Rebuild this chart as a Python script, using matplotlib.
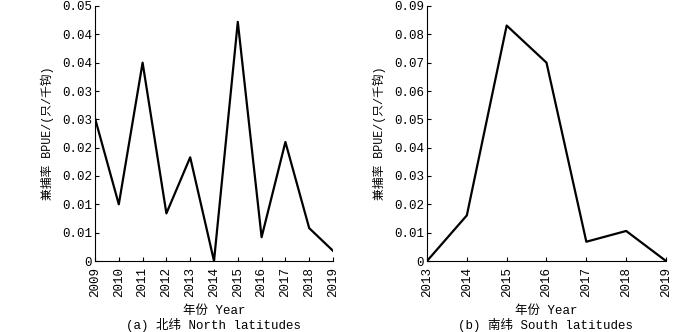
import numpy as np
import matplotlib
matplotlib.use('Agg')
import matplotlib.pyplot as plt

# data
years_n = [2009, 2010, 2011, 2012, 2013, 2014, 2015, 2016, 2017, 2018, 2019]
bpue_n = [0.0252, 0.0100, 0.0350, 0.0084, 0.0183, 0.0, 0.0422, 0.0042, 0.0210, 0.0058, 0.0018]
years_s = [2013, 2014, 2015, 2016, 2017, 2018, 2019]
bpue_s = [0.0, 0.0161, 0.0831, 0.0700, 0.0068, 0.0106, 0.0]

# the original rounds its half-steps to two decimals
yticks_n = [0, 0.005, 0.01, 0.015, 0.02, 0.025, 0.03, 0.035, 0.04, 0.045]
ylabels_n = ['0', '0.01', '0.01', '0.02', '0.02', '0.03', '0.03', '0.04', '0.04', '0.05']
yticks_s = [0, 0.01, 0.02, 0.03, 0.04, 0.05, 0.06, 0.07, 0.08, 0.09]
ylabels_s = ['0', '0.01', '0.02', '0.03', '0.04', '0.05', '0.06', '0.07', '0.08', '0.09']

fam = ['Liberation Mono', 'Noto Sans CJK SC', 'DejaVu Sans']
plt.rcParams['font.family'] = fam

fig = plt.figure(figsize=(7, 3.32), dpi=100)
ax1 = fig.add_axes([95 / 700, 1 - 261 / 332, 238 / 700, 255 / 332])
ax2 = fig.add_axes([427 / 700, 1 - 261 / 332, 239 / 700, 255 / 332])

panels = [
    (ax1, years_n, bpue_n, yticks_n, ylabels_n, 0.045, '(a) 北纬 North latitudes', 213),
    (ax2, years_s, bpue_s, yticks_s, ylabels_s, 0.09, '(b) 南纬 South latitudes', 545),
]

for ax, x, y, yt, yl, ymax, cap, cx in panels:
    ax.plot(x, y, color='black', lw=1.6)
    ax.set_xlim(x[0], x[-1])
    ax.set_ylim(0, ymax)
    ax.set_xticks(x)
    ax.set_xticklabels([str(v) for v in x], rotation=90, fontsize=9)
    ax.set_yticks(yt)
    ax.set_yticklabels(yl, fontsize=9)
    ax.tick_params(direction='in', length=3, width=0.8, pad=2)
    ax.tick_params(axis='x', pad=4)
    for s in ['top', 'right']:
        ax.spines[s].set_visible(False)
    ax.set_ylabel('兼捕率 BPUE/(只/千钩)', fontsize=8.5, labelpad=6)
    ax.set_xlabel('年份 Year', fontsize=9, labelpad=6)
    fig.text(cx / 700, 1 - 325 / 332, cap, ha='center', va='center', fontsize=9)

fig.savefig('out.png', dpi=100)
